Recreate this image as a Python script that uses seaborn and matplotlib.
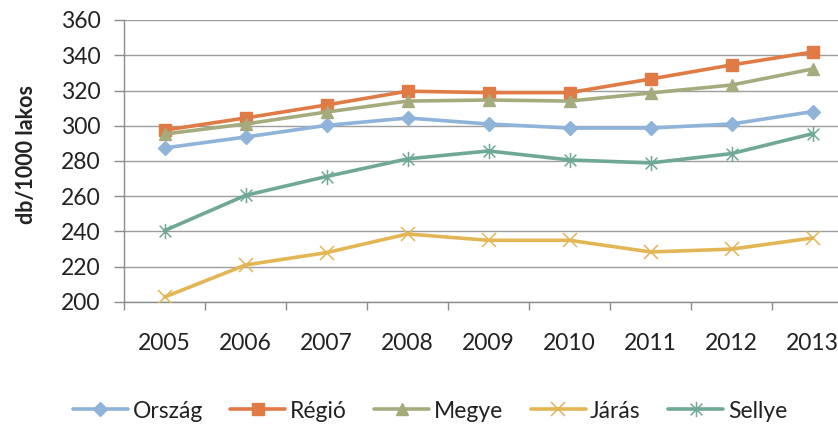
import matplotlib
matplotlib.use("Agg")
import matplotlib.pyplot as plt
from matplotlib.path import Path
from matplotlib.lines import Line2D
import seaborn as sns
import pandas as pd
import numpy as np

years = ["2005", "2006", "2007", "2008", "2009", "2010", "2011", "2012", "2013"]
orszag = [287.4, 293.6, 300.2, 304.4, 301.0, 298.7, 298.7, 301.0, 308.0]
regio = [297.5, 304.4, 311.8, 319.6, 318.8, 318.8, 326.5, 334.5, 341.8]
megye = [295.3, 301.0, 307.8, 314.0, 314.6, 314.0, 318.6, 323.1, 332.2]
jaras = [202.8, 221.0, 228.0, 238.6, 235.0, 235.0, 228.4, 230.0, 236.3]
sellye = [240.5, 260.5, 271.2, 281.2, 285.7, 280.6, 278.9, 284.2, 295.5]
series_names = ["Ország", "Régió", "Megye", "Járás", "Sellye"]
yticks = [200, 220, 240, 260, 280, 300, 320, 340, 360]

colors = ["#8FB3D9", "#E07B45", "#A6AB7E", "#E3B655", "#70A898"]
aster = Path([(-1, -1), (1, 1), (-1, 1), (1, -1), (0, -1.3), (0, 1.3)],
             [Path.MOVETO, Path.LINETO, Path.MOVETO, Path.LINETO, Path.MOVETO, Path.LINETO])
markers = ["D", "s", "^", "x", aster]
msizes = [7.5, 9, 9, 10, 11]
mews = [1, 1, 1, 1.1, 1.1]

sns.set_theme(style="white")
plt.rcParams["font.family"] = ["Lato", "DejaVu Sans"]

df = pd.DataFrame({"pos": list(range(len(years))) * 5,
                   "value": orszag + regio + megye + jaras + sellye,
                   "series": sum([[n] * len(years) for n in series_names], [])})

fig = plt.figure(figsize=(8.38, 4.25), dpi=100)
ax = fig.add_axes([124 / 838, 1 - 302 / 425, (853 - 124) / 838, (302 - 20) / 425])

handles = []
for name, c, m, ms, mew in zip(series_names, colors, markers, msizes, mews):
    sub = df[df["series"] == name]
    sns.lineplot(data=sub, x="pos", y="value", ax=ax, color=c, linewidth=2.6,
                 marker=m, markersize=ms, markeredgecolor=c, markerfacecolor=c,
                 markeredgewidth=mew, legend=False, zorder=3)
    handles.append(Line2D([], [], color=c, linewidth=2.6, marker=m, markersize=ms,
                          markeredgecolor=c, markerfacecolor=c, markeredgewidth=mew))

ax.set_xlim(-0.5, len(years) - 0.5)
ax.set_ylim(200, 360)
ax.set_yticks(yticks)
ax.set_yticklabels([str(v) for v in yticks])
ax.set_xticks(range(len(years)))
ax.set_xticklabels(years)
ax.set_xticks(np.arange(-0.5, len(years), 1.0), minor=True)
ax.tick_params(axis="x", which="major", length=0, pad=22, labelsize=16.5, colors="#222222")
ax.tick_params(axis="x", which="minor", length=6, width=1, color="#8C8C8C", direction="out", bottom=True)
ax.tick_params(axis="y", which="major", length=7, width=1, color="#8C8C8C", direction="out",
               pad=10, labelsize=16.5, left=True, labelcolor="#222222")
ax.grid(axis="y", color="#9E9E9E", linewidth=1)
ax.set_axisbelow(True)
for s in ["top", "right"]:
    ax.spines[s].set_visible(False)
for s in ["left", "bottom"]:
    ax.spines[s].set_color("#8C8C8C")
    ax.spines[s].set_linewidth(1)
ax.set_xlabel("")
ax.set_ylabel("db/1000 lakos", fontsize=15.5, fontweight="bold", color="#222222")
ax.yaxis.set_label_coords((37 - 124) / (853 - 124), (302 - 155) / 282)

fig.legend(handles, series_names, loc="center", bbox_to_anchor=(430 / 838, 1 - 411 / 425), ncol=5,
           frameon=False, fontsize=16.5, handlelength=2.4, columnspacing=1.2, handletextpad=0.2,
           labelcolor="#222222", borderpad=0, borderaxespad=0)

fig.savefig("out.png", dpi=100)
